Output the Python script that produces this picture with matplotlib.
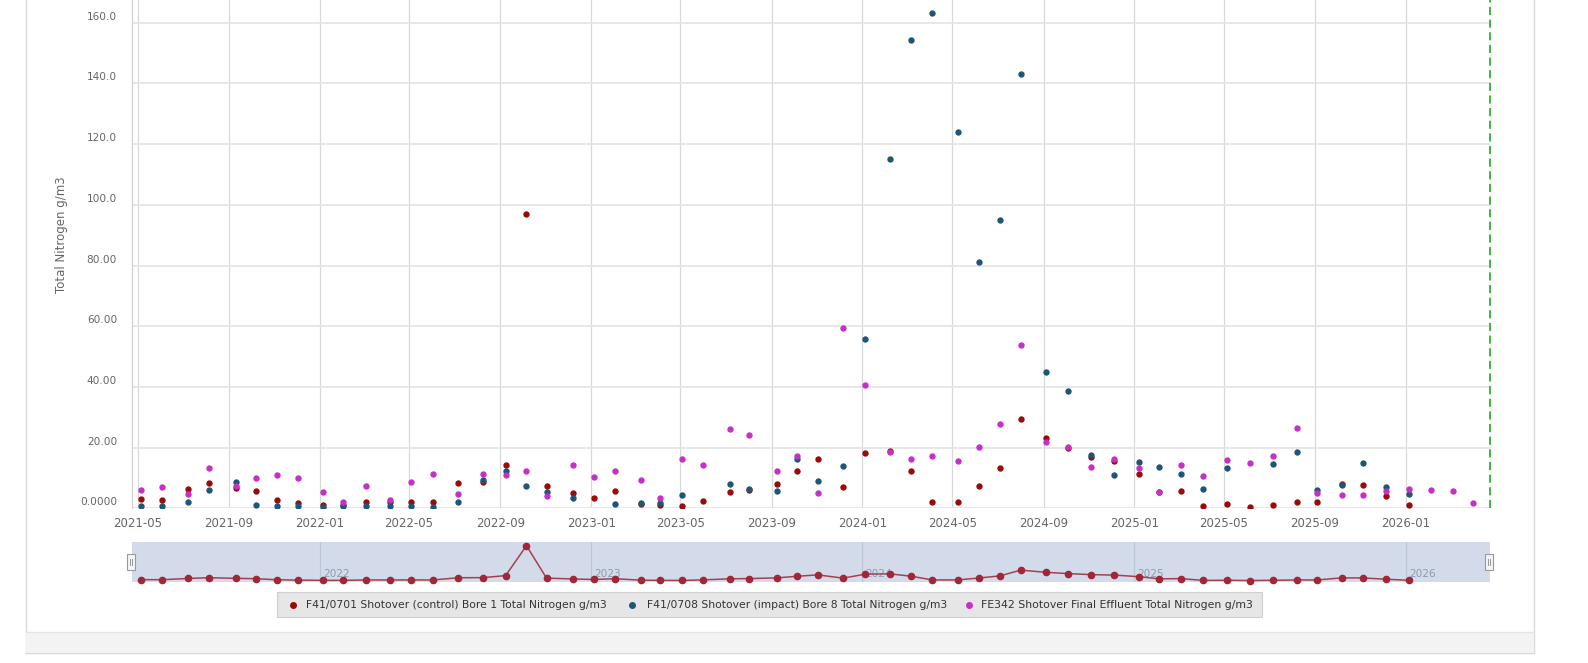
import matplotlib
matplotlib.use('Agg')
import matplotlib.pyplot as plt
import matplotlib.dates as mdates
import matplotlib.transforms as mtransforms
from matplotlib.patches import Rectangle
from matplotlib.lines import Line2D
import numpy as np
import pandas as pd

# ---------------- data ----------------
dates = ['2021-05-06', '2021-06-03', '2021-07-08', '2021-08-05', '2021-09-10', '2021-10-07',
         '2021-11-04', '2021-12-03', '2022-01-05', '2022-02-01', '2022-03-04', '2022-04-06',
         '2022-05-04', '2022-06-02', '2022-07-06', '2022-08-09', '2022-09-08', '2022-10-06',
         '2022-11-02', '2022-12-07', '2023-01-05', '2023-02-02', '2023-03-09', '2023-04-04',
         '2023-05-03', '2023-05-31', '2023-07-07', '2023-08-02', '2023-09-08', '2023-10-05',
         '2023-11-02', '2023-12-06', '2024-01-05', '2024-02-07', '2024-03-07', '2024-04-04',
         '2024-05-08', '2024-06-06', '2024-07-04', '2024-08-01', '2024-09-04', '2024-10-03',
         '2024-11-04', '2024-12-05', '2025-01-07', '2025-02-03', '2025-03-05', '2025-04-03',
         '2025-05-06', '2025-06-05', '2025-07-07', '2025-08-08', '2025-09-04', '2025-10-07',
         '2025-11-04', '2025-12-05', '2026-01-05', '2026-02-04', '2026-03-05', '2026-04-01']

nan = np.nan
control_bore1 = [3.1, 2.8, 6.3, 8.3, 6.6, 5.6, 2.7, 1.6, 1.1, 1.0, 2.1, 2.1,
                 2.2, 2.1, 8.2, 8.6, 14.2, 97.1, 7.2, 4.9, 3.4, 5.6, 1.5, 1.0,
                 0.7, 2.3, 5.3, 5.9, 7.9, 12.3, 16.2, 7.1, 18.3, 19.0, 12.3, 2.2,
                 2.2, 7.5, 13.4, 29.4, 23.2, 19.8, 16.8, 15.6, 11.2, 5.3, 5.7, 0.9,
                 1.3, 0.5, 1.2, 2.1, 2.1, 7.9, 7.7, 4.2, 1.1, nan, nan, nan]

impact_bore8 = [0.8, 0.8, 2.2, 5.9, 8.6, 1.2, 0.9, 0.9, 0.5, 0.8, 0.8, 0.8,
                0.8, 0.5, 2.0, 9.4, 12.3, 7.3, 5.4, 3.5, nan, 1.3, 1.6, 1.8,
                4.5, nan, 7.9, 6.3, 5.6, 16.2, 9.1, 13.8, 55.7, 115.1, 154.2, 163.2,
                124.1, 81.3, 94.9, 143.2, 44.8, 38.7, 17.5, 10.9, 15.4, 13.6, 11.3, 6.5,
                13.3, nan, 14.5, 18.4, 5.9, 7.6, 14.8, 6.9, 4.7, nan, nan, nan]

final_effluent = [6.0, 7.1, 4.8, 13.2, 7.5, 10.1, 11.1, 10.1, 5.4, 2.2, 7.5, 2.6,
                  8.8, 11.2, 4.8, 11.2, 11.1, 12.2, 4.0, 14.2, 10.2, 12.2, 9.2, 3.3,
                  16.1, 14.2, 26.1, 24.0, 12.2, 17.2, 5.0, 59.3, 40.5, 18.4, 16.1, 17.1,
                  15.6, 20.1, 27.8, 53.8, 21.8, 20.3, 13.5, 16.1, 13.4, 5.4, 14.3, 10.7,
                  15.8, 14.9, 17.1, 26.3, 5.1, 4.3, 4.3, 5.6, 6.5, 6.0, 5.8, 1.8]

series_labels = ['F41/0701 Shotover (control) Bore 1 Total Nitrogen g/m3',
                 'F41/0708 Shotover (impact) Bore 8 Total Nitrogen g/m3',
                 'FE342 Shotover Final Effluent Total Nitrogen g/m3']
y_ticks = [0, 20, 40, 60, 80, 100, 120, 140, 160]
y_tick_labels = ['0.0000', '20.00', '40.00', '60.00', '80.00', '100.0', '120.0', '140.0', '160.0']
nav_years = ['2022', '2023', '2024', '2025', '2026']
today_line = '2026-04-24'
y_title = 'Total Nitrogen g/m3'

# ---------------- styling ----------------
C_RED = '#9a0a0a'
C_BLUE = '#1e5677'
C_PINK = '#c630c6'
GREY_TXT = '#666666'
FONT = 'DejaVu Sans'
plt.rcParams['font.family'] = [FONT]

W, H = 1588, 663
fig = plt.figure(figsize=(W / 100, H / 100), dpi=100)
fig.patch.set_facecolor('white')


def fx(px):
    return px / W


def fy(py):
    return 1 - py / H


# card frame
for (x1, y1, x2, y2) in [(26, 0, 26, 653), (1534, 0, 1534, 653), (26, 653, 1534, 653)]:
    fig.add_artist(Line2D([fx(x1), fx(x2)], [fy(y1), fy(y2)], color='#d9d9d9', lw=1.0,
                          transform=fig.transFigure, zorder=0))
fig.add_artist(Rectangle((fx(26), fy(653)), fx(1508), 21 / H, transform=fig.transFigure,
                         fc='#f3f3f3', ec='none', zorder=0))
fig.add_artist(Line2D([fx(26), fx(1534)], [fy(632), fy(632)], color='#e4e4e4', lw=1.0,
                      transform=fig.transFigure, zorder=0))

# ---------------- main axes ----------------
PLOT_L, PLOT_R, PLOT_B = 132, 1490, 508.3
ax = fig.add_axes([fx(PLOT_L), fy(PLOT_B), fx(PLOT_R - PLOT_L), PLOT_B / H])
ax.set_facecolor('white')

d = pd.to_datetime(dates)
ax.scatter(d, control_bore1, s=21, color=C_RED, lw=0, zorder=3)
ax.scatter(d, impact_bore8, s=21, color=C_BLUE, lw=0, zorder=4)
ax.scatter(d, final_effluent, s=21, color=C_PINK, lw=0, zorder=5)

x0 = mdates.date2num(pd.Timestamp('2021-05-01'))
XLIM = (x0 - 7.7, x0 + 1819.3)
ax.set_xlim(*XLIM)
ax.set_ylim(0, 167.5)

ax.xaxis.set_major_locator(mdates.MonthLocator(bymonth=[1, 5, 9]))
ax.xaxis.set_major_formatter(mdates.DateFormatter('%Y-%m'))
ax.set_yticks(y_ticks)
ax.tick_params(axis='y', length=0, labelleft=False)
ax.tick_params(axis='x', length=0, pad=6, labelsize=8.5, labelcolor=GREY_TXT)
ax.set_axisbelow(True)
ax.grid(axis='y', color='#e3e3e3', lw=1.2)
ax.grid(axis='x', color='#d8d8d8', lw=0.9)
for s in ['top', 'right', 'bottom']:
    ax.spines[s].set_visible(False)
ax.spines['left'].set_color('#d0d0d0')
ax.spines['left'].set_linewidth(0.9)

ylab_tr = mtransforms.offset_copy(ax.get_yaxis_transform(), fig=fig, x=-15, y=6, units='dots')
for v, lab in zip(y_ticks, y_tick_labels):
    ax.text(0, v, lab, transform=ylab_tr, ha='right', va='center', fontsize=7.6, color=GREY_TXT)

ax.axvline(pd.Timestamp(today_line), color='#33b033', lw=1.3, ls=(0, (4.5, 2.5)), zorder=6,
           clip_on=False)

ytitle = fig.text(fx(61.7), fy(235), y_title, rotation=90, ha='center', va='center',
                  fontsize=8, color=GREY_TXT)

# ---------------- navigator ----------------
NAV_T, NAV_B = 542, 582.3
axn = fig.add_axes([fx(PLOT_L), fy(NAV_B), fx(PLOT_R - PLOT_L), (NAV_B - NAV_T) / H])
axn.set_facecolor('#d3dbeb')
for s in axn.spines.values():
    s.set_visible(False)
axn.set_xticks([])
axn.set_yticks([])
axn.plot(d, control_bore1, color='#a0434f', lw=1.1, marker='o', ms=4.5,
         mfc='#a02638', mec='#a02638', clip_on=False, zorder=3)
axn.set_xlim(*XLIM)
axn.set_ylim(-4.4, 107.3)
nav_tr = mtransforms.offset_copy(axn.get_xaxis_transform(), fig=fig, x=3, y=0, units='dots')
for yr in nav_years:
    t = pd.Timestamp(yr + '-01-01')
    axn.axvline(t, color='#bcc6d8', lw=0.8, zorder=1)
    axn.text(t, 0.2, yr, transform=nav_tr, ha='left', va='center', fontsize=7.6,
             color='#8d9ab0', zorder=2)

# handles
for hx in (131, 1489):
    fig.add_artist(Rectangle((fx(hx - 4), fy(570)), fx(8), 16 / H, transform=fig.transFigure,
                             fc='#f4f4f4', ec='#9a9a9a', lw=0.8, zorder=5))
    for dx in (-1.2, 1.2):
        fig.add_artist(Line2D([fx(hx + dx), fx(hx + dx)], [fy(565), fy(559)], color='#888888',
                              lw=0.6, transform=fig.transFigure, zorder=6))

# ---------------- legend ----------------
fig.add_artist(Rectangle((fx(277.3), fy(616.7)), fx(1261.7 - 277.3), 25 / H,
                         transform=fig.transFigure, fc='#e6e6e6', ec='#cfcfcf', lw=0.8, zorder=1))
leg_items = [(293, 306, 299, C_RED), (632, 646.7, 298.3, C_BLUE), (969, 981, 272, C_PINK)]
leg_texts = []
for (mx, tx, tw, col), lab in zip(leg_items, series_labels):
    fig.add_artist(Line2D([fx(mx)], [fy(604.5)], marker='o', ms=4, color=col, lw=0,
                          transform=fig.transFigure, zorder=2))
    t = fig.text(fx(tx), fy(604.5), lab, ha='left', va='center', fontsize=8.5, color='#333333',
                 zorder=2)
    leg_texts.append((t, tw))

# fit text widths
fig.canvas.draw()
r = fig.canvas.get_renderer()
for t, tw in leg_texts:
    w = t.get_window_extent(r).width
    t.set_fontsize(t.get_fontsize() * tw / w)
h = ytitle.get_window_extent(r).height
ytitle.set_fontsize(ytitle.get_fontsize() * 116.6 / h)

fig.savefig('out.png', dpi=100, facecolor='white')
